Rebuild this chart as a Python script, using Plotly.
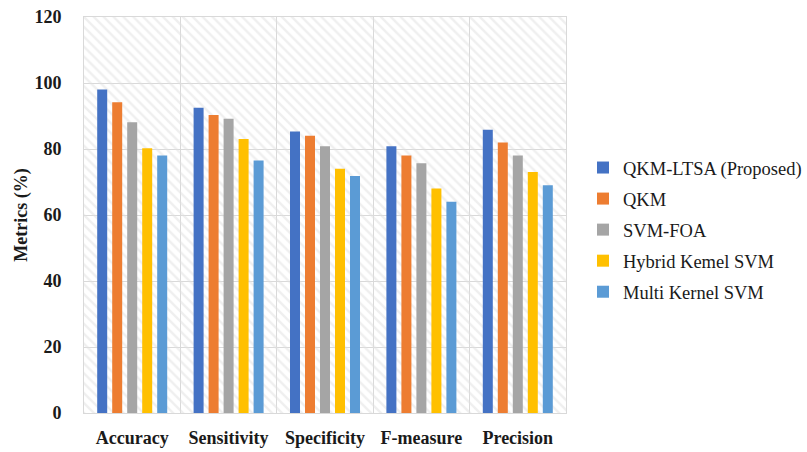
import plotly.graph_objects as go

categories = ["Accuracy", "Sensitivity", "Specificity", "F-measure", "Precision"]
series_names = ["QKM-LTSA (Proposed)", "QKM", "SVM-FOA", "Hybrid Kemel SVM", "Multi Kernel SVM"]
qkm_ltsa = [98, 92.5, 85.3, 80.8, 85.8]
qkm = [94.2, 90.3, 84.0, 78.0, 82.0]
svm_foa = [88.1, 89.2, 80.8, 75.7, 78.0]
hybrid_kernel_svm = [80.2, 83.0, 74.0, 68.0, 73.0]
multi_kernel_svm = [78.0, 76.5, 71.8, 64.0, 69.0]
y_ticks = [0, 20, 40, 60, 80, 100, 120]

series_values = [qkm_ltsa, qkm, svm_foa, hybrid_kernel_svm, multi_kernel_svm]
colors = ["#4472C4", "#ED7D31", "#A5A5A5", "#FFC000", "#5B9BD5"]

FONT = "Liberation Serif"
TXT = "#1a1a1a"
y_max = y_ticks[-1]
n_cat = len(categories)

fig = go.Figure()

# hatched plot-area background (decorative)
fig.add_trace(go.Bar(
    x=[n_cat / 2], y=[y_max], width=[n_cat], xaxis="x", yaxis="y",
    marker=dict(color="rgba(0,0,0,0)", line=dict(width=0),
                pattern=dict(shape="\\", fgcolor="#e0e0e0", bgcolor="rgba(0,0,0,0)",
                             size=7, solidity=0.35, fillmode="overlay")),
    showlegend=False, hoverinfo="skip",
))

for i, (name, vals, col) in enumerate(zip(series_names, series_values, colors)):
    fig.add_trace(go.Bar(
        x=categories, y=vals, name=name, xaxis="x2", yaxis="y",
        marker=dict(color=col, line=dict(width=0)),
        legendgroup=f"g{i}",
    ))

fig.update_layout(
    width=807, height=452,
    margin=dict(l=84, r=241, t=17, b=39, autoexpand=False),
    paper_bgcolor="white", plot_bgcolor="white",
    barmode="group", bargap=0.222, bargroupgap=0.333,
    font=dict(family=FONT, size=18, color=TXT),
    xaxis=dict(range=[0, n_cat], dtick=1, showticklabels=False, showgrid=True,
               gridcolor="#d9d9d9", gridwidth=1, zeroline=False, automargin=False,
               showline=True, linecolor="#d9d9d9", mirror=True, ticks=""),
    xaxis2=dict(overlaying="x", type="category", showgrid=False, zeroline=False,
                showline=False, ticks="", ticklabelstandoff=12, automargin=False,
                tickfont=dict(family=FONT, size=18, color=TXT, weight="bold")),
    yaxis=dict(range=[0, y_max], tickvals=y_ticks, showgrid=True, gridcolor="#d9d9d9",
               gridwidth=1, zeroline=False, showline=True, linecolor="#d9d9d9", mirror=True,
               ticks="", ticklabelstandoff=18, automargin=False,
               tickfont=dict(family=FONT, size=18, color=TXT, weight="bold"),
               title=dict(text="<b>Metrics (%)</b>", font=dict(family=FONT, size=18, color=TXT),
                          standoff=2)),
    legend=dict(x=(583 - 84) / 482, xanchor="left", y=(413 - 230) / 396, yanchor="middle",
                font=dict(family=FONT, size=18.5, color=TXT),
                tracegroupgap=4, bgcolor="rgba(0,0,0,0)"),
)

fig.write_html("out.html", post_script="document.body.style.margin='0';",
               config={"displayModeBar": False})
